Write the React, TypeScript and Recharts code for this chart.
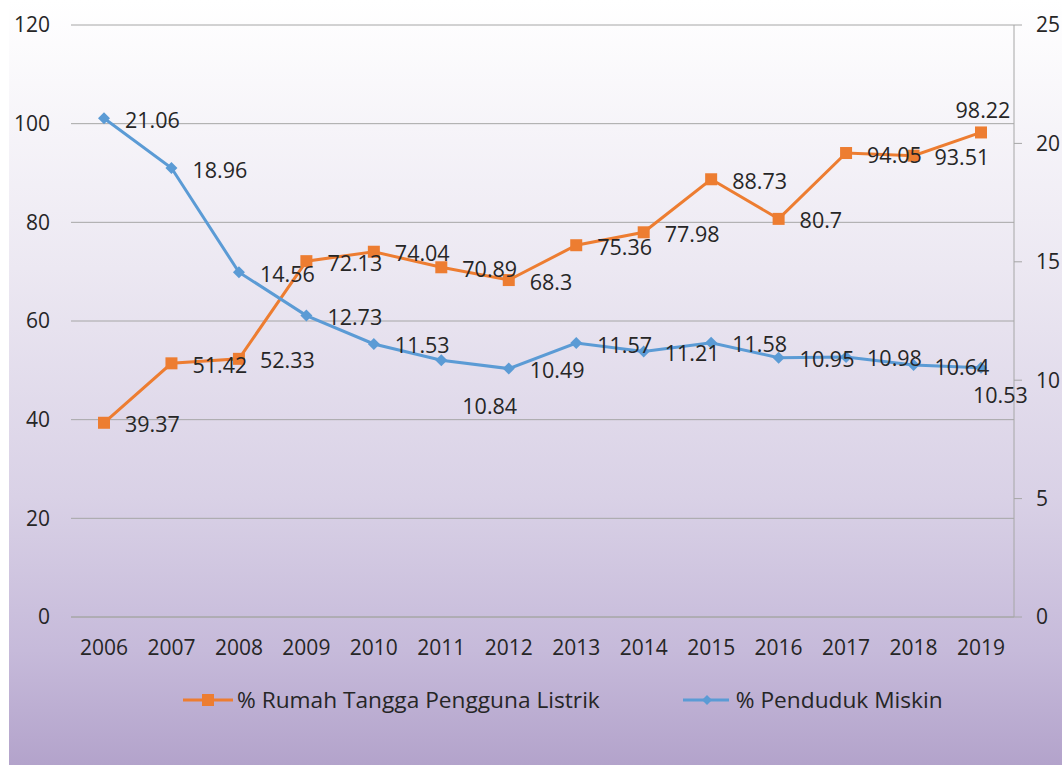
import { LineChart, Line, XAxis, YAxis, CartesianGrid, LabelList } from "recharts";

const years = ["2006", "2007", "2008", "2009", "2010", "2011", "2012", "2013", "2014", "2015", "2016", "2017", "2018", "2019"];
const listrik = [39.37, 51.42, 52.33, 72.13, 74.04, 70.89, 68.3, 75.36, 77.98, 88.73, 80.7, 94.05, 93.51, 98.22];
const miskin = [21.06, 18.96, 14.56, 12.73, 11.53, 10.84, 10.49, 11.57, 11.21, 11.58, 10.95, 10.98, 10.64, 10.53];
const leftTicks = [0, 20, 40, 60, 80, 100, 120];
const rightTicks = [0, 5, 10, 15, 20, 25];

const ORANGE = "#ED7D31";
const BLUE = "#5B9BD5";
const FONT = "'Open Sans', sans-serif";
const TEXT = "#262626";

const data = years.map((y, i) => ({ year: y, listrik: listrik[i], miskin: miskin[i] }));

const SquareDot = (p: any) => {
  if (p.cx == null) return null;
  return <rect key={p.index} x={p.cx - 6} y={p.cy - 6} width={12} height={12} fill={ORANGE} />;
};

const DiamondDot = (p: any) => {
  if (p.cx == null) return null;
  const { cx, cy } = p;
  return <polygon key={p.index} points={`${cx},${cy - 6} ${cx + 6},${cy} ${cx},${cy + 6} ${cx - 6},${cy}`} fill={BLUE} />;
};

// most labels sit right of the point, a few are moved like in the original
const makeLabel = (series: "listrik" | "miskin") => (p: any) => {
  const { x, y, value, index } = p;
  let dx = 21, dy = 1, anchor = "start";
  if (series === "listrik" && index === years.length - 1) { dx = 2; dy = -23; anchor = "middle"; }
  if (series === "miskin" && index === 5) { dy = 45; }
  if (series === "miskin" && index === years.length - 1) { dx = -8; dy = 27; }
  return (
    <text x={x + dx} y={y + dy} textAnchor={anchor} dominantBaseline="central" fontSize={21.5} fontFamily={FONT} fill={TEXT}>
      {value}
    </text>
  );
};

export default function App() {
  return (
    <div style={{ position: "fixed", left: 0, top: 0, width: 1062, height: 765, background: "#ffffff" }}>
      <div
        style={{
          position: "absolute",
          left: 9,
          top: 0,
          width: 1053,
          height: 765,
          background: "linear-gradient(to bottom, #ffffff 0%, #ece8f2 35%, #d9d1e6 65%, #c6bada 85%, #b3a3cb 100%)",
        }}
      >
        <LineChart width={1053} height={765} data={data} margin={{ top: 25, right: 0, left: 0, bottom: 108 }}>
          <CartesianGrid yAxisId="left" vertical={false} stroke="#a6a6a6" />
          <XAxis
            dataKey="year"
            axisLine={{ stroke: "#a6a6a6" }}
            tickLine={false}
            tickSize={0}
            tickMargin={23}
            height={40}
            padding={{ left: 33, right: 33 }}
            tick={{ fontSize: 21, fontFamily: FONT, fill: TEXT }}
            interval={0}
          />
          <YAxis
            yAxisId="left"
            domain={[0, 120]}
            ticks={leftTicks}
            width={62}
            axisLine={false}
            tickLine={false}
            tickSize={0}
            tickMargin={21}
            tick={{ fontSize: 21, fontFamily: FONT, fill: TEXT }}
          />
          <YAxis
            yAxisId="right"
            orientation="right"
            domain={[0, 25]}
            ticks={rightTicks}
            width={48}
            axisLine={{ stroke: "#a6a6a6" }}
            tickLine={{ stroke: "#a6a6a6" }}
            tickSize={8}
            tickMargin={14}
            tick={{ fontSize: 21, fontFamily: FONT, fill: TEXT, textAnchor: "start" }}
          />
          <Line
            yAxisId="left"
            type="linear"
            dataKey="listrik"
            name="% Rumah Tangga Pengguna Listrik"
            stroke={ORANGE}
            strokeWidth={3}
            dot={SquareDot}
            activeDot={false}
            isAnimationActive={false}
          >
            <LabelList dataKey="listrik" content={makeLabel("listrik")} />
          </Line>
          <Line
            yAxisId="right"
            type="linear"
            dataKey="miskin"
            name="% Penduduk Miskin"
            stroke={BLUE}
            strokeWidth={3}
            dot={DiamondDot}
            activeDot={false}
            isAnimationActive={false}
          >
            <LabelList dataKey="miskin" content={makeLabel("miskin")} />
          </Line>
        </LineChart>
        {/* legend */}
        <div
          style={{
            position: "absolute",
            top: 684,
            left: 0,
            display: "flex",
            alignItems: "center",
            fontFamily: FONT,
            fontSize: 22.7,
            color: TEXT,
            whiteSpace: "nowrap",
          }}
        >
          <svg width={52} height={20} style={{ marginLeft: 174 }}>
            <line x1={0} y1={10} x2={50} y2={10} stroke={ORANGE} strokeWidth={3} />
            <rect x={19} y={4} width={12} height={12} fill={ORANGE} />
          </svg>
          <span style={{ marginLeft: 2 }}>% Rumah Tangga Pengguna Listrik</span>
          <svg width={50} height={20} style={{ marginLeft: 83 }}>
            <line x1={0} y1={10} x2={46} y2={10} stroke={BLUE} strokeWidth={3} />
            <polygon points="24,5 29,10 24,15 19,10" fill={BLUE} />
          </svg>
          <span style={{ marginLeft: 3 }}>% Penduduk Miskin</span>
        </div>
      </div>
    </div>
  );
}
